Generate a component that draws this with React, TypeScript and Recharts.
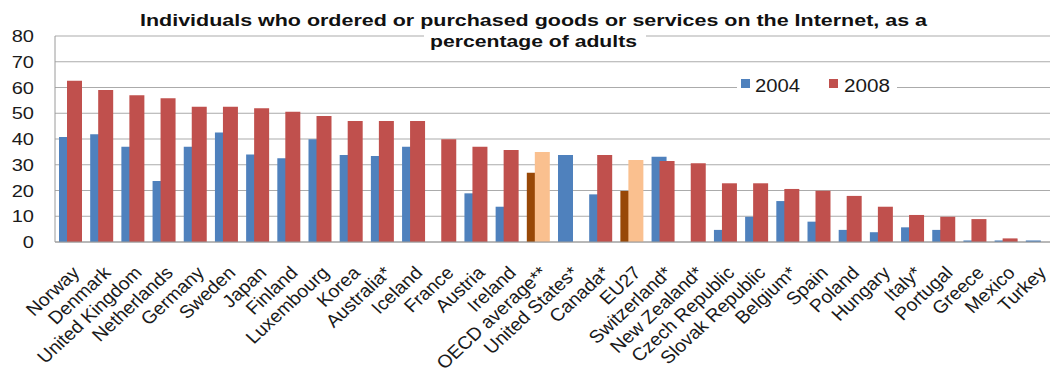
import { BarChart, Bar, XAxis, YAxis, CartesianGrid, Cell } from "recharts";

const countries = [
  "Norway", "Denmark", "United Kingdom", "Netherlands", "Germany", "Sweden", "Japan", "Finland",
  "Luxembourg", "Korea", "Australia*", "Iceland", "France", "Austria", "Ireland", "OECD average**",
  "United States*", "Canada*", "EU27", "Switzerland*", "New Zealand*", "Czech Republic",
  "Slovak Republic", "Belgium*", "Spain", "Poland", "Hungary", "Italy*", "Portugal", "Greece",
  "Mexico", "Turkey",
];
const values2004 = [
  40.8, 41.8, 37, 23.7, 37, 42.5, 34, 32.5, 39.9, 33.8, 33.4, 37, null, 18.9, 13.7, 26.9,
  33.8, 18.5, 19.8, 33.1, null, 4.7, 9.8, 15.9, 7.9, 4.7, 3.8, 5.7, 4.7, 0.6, 0.6, 0.6,
];
const values2008 = [
  62.6, 59, 57, 55.8, 52.5, 52.5, 51.9, 50.6, 48.9, 47, 47, 47, 39.9, 37, 35.7, 35,
  null, 33.8, 31.8, 31.5, 30.6, 22.8, 22.8, 20.6, 19.9, 17.9, 13.7, 10.5, 9.8, 8.9, 1.4, null,
];
const averages = ["OECD average**", "EU27"];
const yTicks = [0, 10, 20, 30, 40, 50, 60, 70, 80];

const data = countries.map((c, i) => ({ country: c, y2004: values2004[i], y2008: values2008[i] }));

const FONT = "'Liberation Sans', Arial, sans-serif";

function XTick({ x, y, payload }: any) {
  return (
    <g transform={`translate(${x + 10},${y + 32}) scale(1.08,1)`}>
      <text textAnchor="end" transform="rotate(-45)" fontSize={18} fill="#1a1a1a" fontFamily={FONT}>
        {payload.value}
      </text>
    </g>
  );
}

function YTick({ x, y, payload }: any) {
  return (
    <g transform={`translate(${x - 21},${y}) scale(1.18,1)`}>
      <text textAnchor="end" dy="0.36em" fontSize={17} fill="#1a1a1a" fontFamily={FONT}>
        {payload.value}
      </text>
    </g>
  );
}

export default function App() {
  return (
    <div style={{ position: "absolute", left: 0, top: 0, width: 1050, height: 380, background: "#fff" }}>
      <BarChart
        width={1050}
        height={380}
        data={data}
        margin={{ top: 36, right: -3, bottom: 0, left: 0 }}
        barSize={15}
        barGap={-7}
        barCategoryGap={0}
      >
        <CartesianGrid vertical={false} stroke="#ababab" />
        <XAxis
          dataKey="country"
          interval={0}
          height={138}
          tickSize={0}
          tickMargin={0}
          tickLine={false}
          axisLine={{ stroke: "#9a9a9a" }}
          tick={<XTick />}
        />
        <YAxis
          domain={[0, 80]}
          ticks={yTicks}
          width={55}
          tickSize={0}
          tickMargin={0}
          tickLine={false}
          axisLine={{ stroke: "#9a9a9a" }}
          tick={<YTick />}
        />
        <Bar dataKey="y2004" fill="#4f81bd" isAnimationActive={false}>
          {data.map((d) => (
            <Cell key={d.country} fill={averages.includes(d.country) ? "#984807" : "#4f81bd"} />
          ))}
        </Bar>
        <Bar dataKey="y2008" fill="#c0504d" isAnimationActive={false}>
          {data.map((d) => (
            <Cell key={d.country} fill={averages.includes(d.country) ? "#fac08f" : "#c0504d"} />
          ))}
        </Bar>
      </BarChart>
      <svg
        width={1050}
        height={380}
        style={{ position: "absolute", left: 0, top: 0, pointerEvents: "none" }}
        fontFamily={FONT}
      >
        <text x={140} y={26} fontSize={17} fontWeight="bold" fill="#111" textLength={787} lengthAdjust="spacingAndGlyphs">
          Individuals who ordered or purchased goods or services on the Internet, as a
        </text>
        <rect x={424} y={31} width={222} height={20} fill="#fff" />
        <text x={430} y={47} fontSize={17} fontWeight="bold" fill="#111" textLength={207} lengthAdjust="spacingAndGlyphs">
          percentage of adults
        </text>
        <rect x={737} y={75} width={160} height={24} fill="#fff" />
        <rect x={741} y={79} width={9} height={9} fill="#4f81bd" />
        <text x={755} y={92} fontSize={18} fill="#1a1a1a" textLength={45} lengthAdjust="spacingAndGlyphs">2004</text>
        <rect x={829} y={79} width={9} height={9} fill="#c0504d" />
        <text x={844} y={92} fontSize={18} fill="#1a1a1a" textLength={46} lengthAdjust="spacingAndGlyphs">2008</text>
      </svg>
    </div>
  );
}
